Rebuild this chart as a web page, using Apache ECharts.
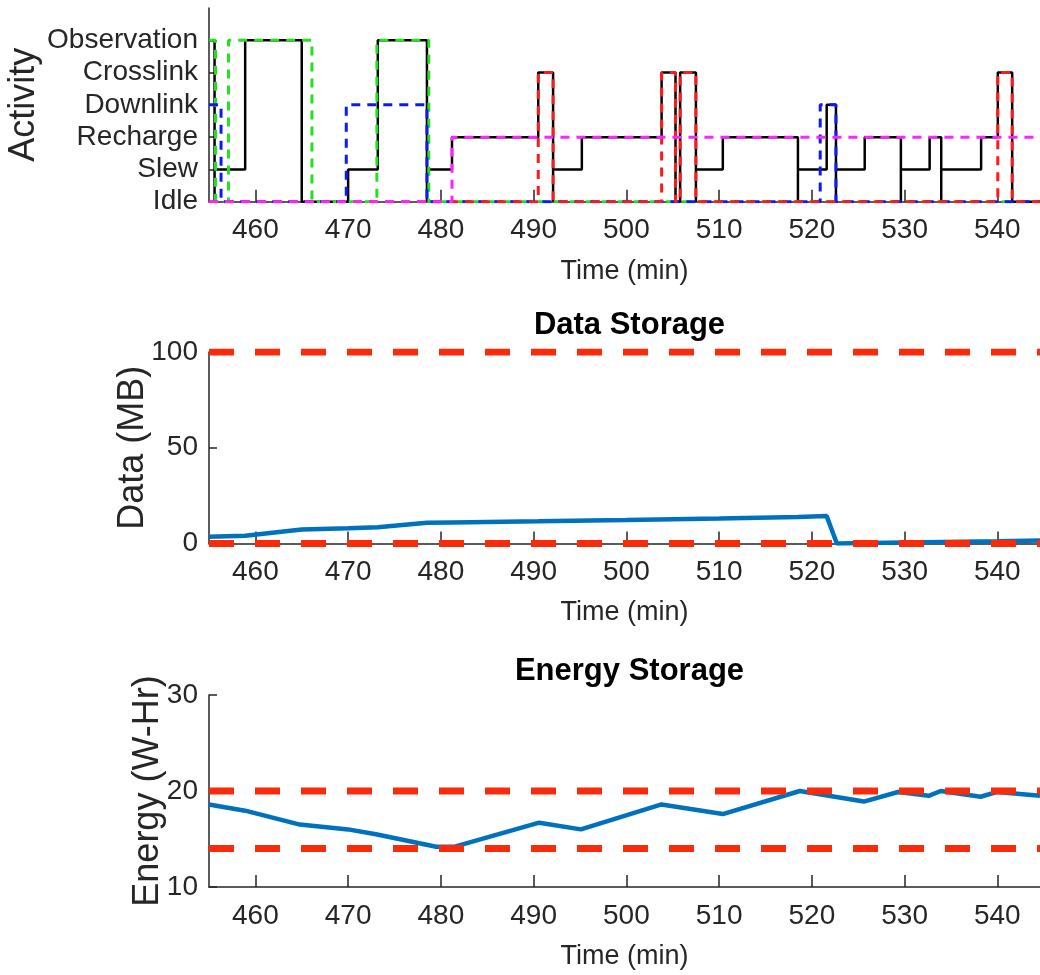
<!DOCTYPE html>
<html><head><meta charset="utf-8">
<script src="https://cdn.jsdelivr.net/npm/echarts@6/dist/echarts.min.js"></script>
<style>html,body{margin:0;padding:0;background:#fff}#c{width:1040px;height:975px}</style>
</head><body><div id="c"></div>
<script>
// ---------- data ----------
const activityNames = ['Idle','Slew','Recharge','Downlink','Crosslink','Observation'];
const activityTicks = [0,1,2,3,4,5];
const timeTicks = [460,470,480,490,500,510,520,530,540];
const timeMin = 455, timeMax = 544.6;

// actual activity (black solid), change points
const actualTimes  = [455.0,455.6,455.6,458.9,465.0,470.0,473.2,478.5,478.5,481.2,490.5,492.1,492.1,495.2,503.8,505.3,505.8,507.5,507.5,510.4,518.5,518.5,521.6,522.6,522.6,525.7,529.6,529.6,532.7,533.95,533.95,538.25,540.05,541.6,544.6];
const actualStates = [5,0,1,5,0,1,5,0,1,2,4,0,1,2,4,0,4,0,1,2,0,1,3,0,1,2,0,1,2,0,1,2,4,0,0];
// scheduled observation (green dashed)
const obsTimes  = [455.0,455.7,457.1,466.1,473.1,478.7,544.6];
const obsStates = [5,0,5,0,5,0,0];
// scheduled downlink (blue dashed)
const dlTimes  = [455.0,456.3,469.8,478.5,520.9,522.6,544.6];
const dlStates = [3,0,3,0,3,0,0];
// scheduled crosslink (red dashed)
const clTimes  = [455.0,490.5,492.1,503.8,505.3,505.8,507.5,540.05,541.6,544.6];
const clStates = [0,4,0,4,0,4,0,4,0,0];
// scheduled recharge (magenta dashed)
const rcTimes  = [455.0,481.2,544.6];
const rcStates = [0,2,2];

// data storage (MB)
const dataTimes  = [455,458.9,465.0,470,473.2,478.5,481.2,490.5,500,510,518.5,521.6,522.7,530,540,544.6];
const dataValues = [3.5,4.0,7.3,7.9,8.5,10.8,11.0,11.6,12.3,13.1,13.8,14.3,0,0.5,1.2,1.6];
const dataLimits = [0,100];
const dataTicks = [0,50,100];

// energy storage (W-Hr)
const energyTimes  = [455,458.9,464.8,470,473,479.5,481.5,490.6,495.1,503.8,510.4,518.7,525.6,529.3,532.6,533.9,538.2,540.0,544.6];
const energyValues = [18.6,17.95,16.5,16.0,15.5,14.2,14.2,16.7,16.0,18.6,17.6,20.0,18.9,19.9,19.5,20.0,19.4,19.9,19.5];
const energyLimits = [14,20];
const energyTicks = [10,20,30];

// ---------- chart ----------
const zip = (a,b) => a.map((x,i) => [x,b[i]]);
const NARROW = '"Liberation Sans Narrow", "Arial Narrow", "Liberation Sans", Arial, sans-serif';
const REG = '"Liberation Sans", Arial, sans-serif';
const AX = '#262626';
const RED = '#fa2a0a';
const BLUE = '#0072BD';

function xAxis(gi){
  return {
    type:'value', gridIndex:gi, min:timeMin, max:timeMax,
    axisLine:{show:true, lineStyle:{color:AX, width:1.5}},
    axisTick:{show:true, inside:true, length:12, customValues:timeTicks, lineStyle:{color:AX, width:1.5}},
    axisLabel:{customValues:timeTicks, margin:15, fontSize:28, fontFamily:NARROW, color:AX,
      showMinLabel:true, showMaxLabel:true},
    splitLine:{show:false},
    name:'Time (min)', nameLocation:'middle', nameGap:56, nameMoveOverlap:false,
    nameTextStyle:{fontSize:27, fontFamily:NARROW, color:AX}
  };
}
function yAxis(gi, min, max, ticks, name, gap, fmt){
  return {
    type:'value', gridIndex:gi, min:min, max:max,
    axisLine:{show:true, lineStyle:{color:AX, width:1.5}},
    axisTick:{show:true, inside:true, length:8, customValues:ticks, lineStyle:{color:AX, width:1.5}},
    axisLabel:{customValues:ticks, margin:11, fontSize:28, lineHeight:28, fontFamily:NARROW, color:AX,
      showMinLabel:true, showMaxLabel:true, hideOverlap:false,
      formatter: fmt || (v => String(v))},
    splitLine:{show:false},
    name:name, nameLocation:'middle', nameGap:gap, nameRotate:90, nameMoveOverlap:false,
    nameTextStyle:{fontSize:36, fontFamily:REG, color:AX}
  };
}
function stepSeries(times, states, color, width, dashed, z){
  return {
    type:'line', xAxisIndex:0, yAxisIndex:0, step:'end', symbol:'none', animation:false,
    data: zip(times, states), z:z,
    lineStyle:{color:color, width:width, type: dashed ? [9,7] : 'solid'}
  };
}
function limitSeries(gi, value){
  return {
    type:'line', xAxisIndex:gi, yAxisIndex:gi, symbol:'none', animation:false, z:5,
    data:[[timeMin, value],[timeMax, value]],
    lineStyle:{color:RED, width:7, type:[25,21]}
  };
}

const chart = echarts.init(document.getElementById('c'), null, {renderer:'canvas'});
chart.setOption({
  animation:false,
  backgroundColor:'#fff',
  title:[
    {text:'Data Storage', left:624.5, top:305, textAlign:'center',
     textStyle:{fontSize:31, fontWeight:'bold', fontFamily:NARROW, color:'#000'}},
    {text:'Energy Storage', left:624.5, top:651, textAlign:'center',
     textStyle:{fontSize:31, fontWeight:'bold', fontFamily:NARROW, color:'#000'}}
  ],
  grid:[
    {left:209, width:831, top:8, height:193.7, containLabel:false, outerBoundsMode:'none'},
    {left:209, width:831, top:352, height:191.5, containLabel:false, outerBoundsMode:'none'},
    {left:209, width:831, top:695, height:192, containLabel:false, outerBoundsMode:'none'}
  ],
  xAxis:[xAxis(0), xAxis(1), xAxis(2)],
  yAxis:[
    yAxis(0, 0, 6, activityTicks, 'Activity', 167, v => activityNames[v] || ''),
    yAxis(1, 0, 100, dataTicks, 'Data (MB)', 58),
    yAxis(2, 10, 30, energyTicks, 'Energy (W-Hr)', 43)
  ],
  series:[
    stepSeries(actualTimes, actualStates, '#000000', 2.5, false, 2),
    stepSeries(obsTimes, obsStates, '#22e022', 3, true, 3),
    stepSeries(dlTimes, dlStates, '#0a1aff', 3, true, 3),
    stepSeries(clTimes, clStates, '#ff1a1a', 3, true, 3),
    stepSeries(rcTimes, rcStates, '#ff22ff', 3, true, 3),
    {type:'line', xAxisIndex:1, yAxisIndex:1, symbol:'none', animation:false, z:3,
     data: zip(dataTimes, dataValues), lineStyle:{color:BLUE, width:4.5}},
    limitSeries(1, dataLimits[0]), limitSeries(1, dataLimits[1]),
    {type:'line', xAxisIndex:2, yAxisIndex:2, symbol:'none', animation:false, z:3,
     data: zip(energyTimes, energyValues), lineStyle:{color:BLUE, width:4.5}},
    limitSeries(2, energyLimits[0]), limitSeries(2, energyLimits[1])
  ]
});
</script>
</body></html>
